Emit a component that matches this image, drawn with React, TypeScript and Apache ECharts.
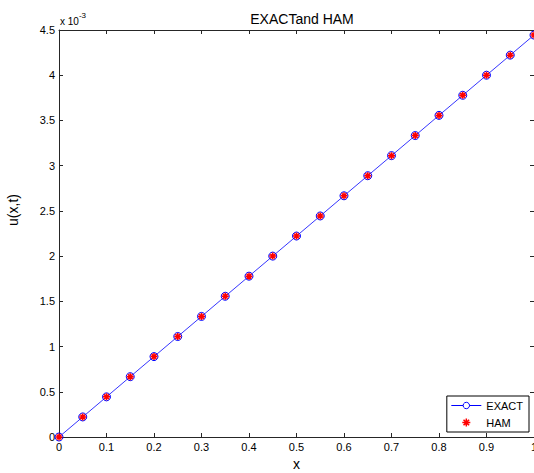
import React, { useEffect, useRef } from "react";
import * as echarts from "echarts";

const xValues = [0, 0.05, 0.1, 0.15, 0.2, 0.25, 0.3, 0.35, 0.4, 0.45, 0.5, 0.55, 0.6, 0.65, 0.7, 0.75, 0.8, 0.85, 0.9, 0.95, 1];
// values in units of 1e-3
const exactValues = [0, 0.222, 0.444, 0.667, 0.889, 1.111, 1.333, 1.556, 1.778, 2.0, 2.222, 2.444, 2.667, 2.889, 3.111, 3.333, 3.556, 3.778, 4.0, 4.222, 4.444];
const hamValues = [0, 0.222, 0.444, 0.667, 0.889, 1.111, 1.333, 1.556, 1.778, 2.0, 2.222, 2.444, 2.667, 2.889, 3.111, 3.333, 3.556, 3.778, 4.0, 4.222, 4.444];
const xTicks = ["0", "0.1", "0.2", "0.3", "0.4", "0.5", "0.6", "0.7", "0.8", "0.9", "1"];
const yTicks = ["0", "0.5", "1", "1.5", "2", "2.5", "3", "3.5", "4", "4.5"];

const FONT = "Liberation Sans, Arial, sans-serif";
const ASTERISK = "path://M5,0L5,10M0,5L10,5M1.5,1.5L8.5,8.5M1.5,8.5L8.5,1.5";

export default function App() {
  const ref = useRef<HTMLDivElement>(null);
  useEffect(() => {
    const chart = echarts.init(ref.current!, null, { renderer: "svg" });
    const axisCommon = {
      type: "value" as const,
      axisLine: { show: true, onZero: false, lineStyle: { color: "#262626", width: 1 } },
      axisTick: { show: true, inside: true, length: 4, lineStyle: { color: "#262626" } },
      splitLine: { show: false },
    };
    chart.setOption({
      animation: false,
      backgroundColor: "#ffffff",
      title: {
        text: "EXACTand HAM",
        left: 297,
        textAlign: "center",
        top: 7,
        textStyle: { fontFamily: FONT, fontSize: 14, fontWeight: "normal", color: "#000" },
      },
      grid: { left: 59, right: 0, top: 30, bottom: 36, containLabel: false, outerBoundsMode: "none" },
      xAxis: [
        {
          ...axisCommon,
          position: "bottom",
          min: 0,
          max: 1,
          interval: 0.1,
          name: "x",
          nameLocation: "middle",
          nameGap: 20,
          nameTextStyle: { fontFamily: FONT, fontSize: 14, color: "#000" },
          axisLabel: {
            fontFamily: FONT,
            fontSize: 11,
            color: "#000",
            margin: 4,
            formatter: (v: number) => xTicks[Math.round(v * 10)] ?? "",
          },
        },
        {
          ...axisCommon,
          position: "top",
          min: 0,
          max: 1,
          interval: 0.1,
          axisLabel: { show: false },
        },
      ],
      yAxis: [
        {
          ...axisCommon,
          position: "left",
          min: 0,
          max: 4.5,
          interval: 0.5,
          axisLabel: {
            fontFamily: FONT,
            fontSize: 11,
            color: "#000",
            margin: 4,
            formatter: (v: number) => yTicks[Math.round(v * 2)] ?? "",
          },
        },
        {
          ...axisCommon,
          position: "right",
          min: 0,
          max: 4.5,
          interval: 0.5,
          axisLabel: { show: false },
        },
      ],
      legend: {
        right: 5,
        bottom: 41,
        orient: "vertical",
        align: "left",
        backgroundColor: "#ffffff",
        borderColor: "#000",
        borderWidth: 1,
        borderRadius: 0,
        padding: [4, 6, 3, 4],
        itemGap: 5,
        itemWidth: 30,
        itemHeight: 8,
        textStyle: { fontFamily: FONT, fontSize: 11, color: "#000", padding: [0, 0, 0, 0] },
        data: [
          {
            name: "EXACT",
            itemStyle: { color: "#ffffff", borderColor: "#0000ff", borderWidth: 1 },
            lineStyle: { color: "#0000ff", width: 1 },
          },
          {
            name: "HAM",
            icon: ASTERISK,
            itemStyle: { color: "none", borderColor: "#ff0000", borderWidth: 1.5 },
          },
        ],
      },
      graphic: [
        {
          type: "text",
          left: 60,
          top: 11,
          style: {
            text: "{a|x 10}{b|-3}",
            rich: {
              a: { fontFamily: FONT, fontSize: 10, fill: "#000", verticalAlign: "bottom" },
              b: { fontFamily: FONT, fontSize: 8, fill: "#000", padding: [0, 0, 7, 0] },
            },
          },
        },
        {
          type: "text",
          x: 13,
          y: 210,
          rotation: Math.PI / 2,
          style: {
            text: "u(x,t)",
            fontFamily: FONT,
            fontSize: 14,
            fill: "#000",
            align: "center",
            verticalAlign: "middle",
          },
        },
      ],
      series: [
        {
          name: "EXACT",
          type: "line",
          data: xValues.map((x, i) => [x, exactValues[i]]),
          lineStyle: { color: "#0000ff", width: 0.8 },
          symbol: "circle",
          symbolSize: 8,
          showAllSymbol: true,
          itemStyle: { color: "none", borderColor: "#0000ff", borderWidth: 1 },
          z: 2,
        },
        {
          name: "HAM",
          type: "line",
          data: xValues.map((x, i) => [x, hamValues[i]]),
          lineStyle: { width: 0, opacity: 0 },
          symbol: ASTERISK,
          symbolSize: 7,
          showAllSymbol: true,
          itemStyle: { color: "none", borderColor: "#ff0000", borderWidth: 1.5 },
          z: 3,
        },
      ],
    });
    return () => chart.dispose();
  }, []);
  return (
    <div
      ref={ref}
      style={{ position: "fixed", left: 0, top: 0, width: 534, height: 473, background: "#fff" }}
    />
  );
}
